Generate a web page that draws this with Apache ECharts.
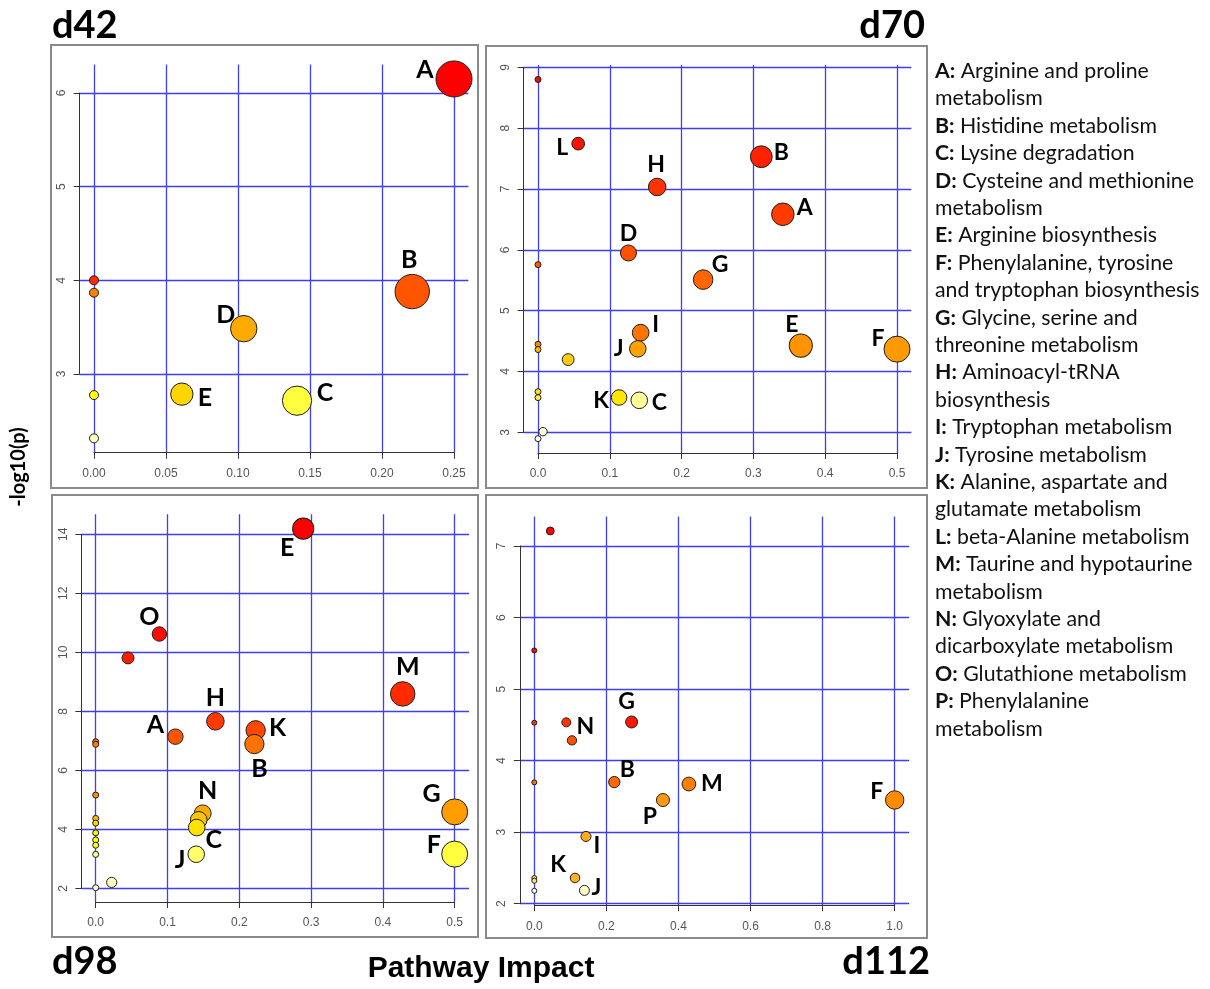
<!DOCTYPE html>
<html><head><meta charset="utf-8">
<script src="https://cdn.jsdelivr.net/npm/echarts@6/dist/echarts.min.js"></script>
<style>html,body{margin:0;padding:0;background:#fff}#c{width:1210px;height:989px}</style>
</head><body><div id="c"></div>
<script>
// ================= DATA =================
// d42
const d42Label  = ['A','','B','','D','E','','C',''];
const d42Impact = [0.250,0,0.221,0,0.104,0.061,0,0.141,0];
const d42LogP   = [6.15,4.00,3.88,3.868,3.484,2.785,2.775,2.715,2.313];
const d42XTicks = [0,0.05,0.10,0.15,0.20,0.25];
const d42YTicks = [3,4,5,6];
// d70
const d70Label  = ['','L','B','H','A','D','','G','I','','E','J','F','','','','K','','C','',''];
const d70Impact = [0,0.056,0.311,0.166,0.341,0.126,0,0.230,0.143,0,0.366,0.139,0.500,0,0.042,0,0.113,0,0.141,0.007,0];
const d70LogP   = [8.80,7.745,7.53,7.033,6.584,5.948,5.756,5.51,4.638,4.447,4.425,4.372,4.367,4.36,4.195,3.668,3.572,3.570,3.526,3.011,2.896];
const d70XTicks = [0,0.1,0.2,0.3,0.4,0.5];
const d70YTicks = [3,4,5,6,7,8,9];
// d98
const d98Label  = ['E','O','','M','H','K','A','','B','','','G','N','','','','C','','','','F','J','','',''];
const d98Impact = [0.289,0.0887,0.045,0.4276,0.1667,0.2228,0.111,0,0.221,0,0,0.500,0.149,0,0.1435,0,0.1407,0,0,0,0.500,0.140,0,0.0223,0];
const d98LogP   = [14.19,10.62,9.81,8.59,7.66,7.356,7.14,6.97,6.89,6.88,5.16,4.59,4.54,4.37,4.32,4.21,4.06,3.88,3.64,3.46,3.16,3.155,3.15,2.20,2.02];
const d98XTicks = [0,0.1,0.2,0.3,0.4,0.5];
const d98YTicks = [2,4,6,8,10,12,14];
// d112
const d112Label  = ['','','G','N','','','B','','M','F','P','I','K','','','J',''];
const d112Impact = [0.0444,0,0.270,0.0888,0,0.1045,0.222,0,0.429,1.000,0.357,0.1434,0.113,0,0,0.139,0];
const d112LogP   = [7.21,5.54,4.54,4.535,4.53,4.283,3.70,3.696,3.673,3.45,3.449,2.94,2.36,2.359,2.32,2.186,2.18];
const d112XTicks = [0,0.2,0.4,0.6,0.8,1.0];
const d112YTicks = [2,3,4,5,6,7];
// legend
const legendKeys  = ['A','B','C','D','E','F','G','H','I','J','K','L','M','N','O','P'];
const legendNames = [
  'Arginine and proline\nmetabolism',
  'Histidine metabolism',
  'Lysine degradation',
  'Cysteine and methionine\nmetabolism',
  'Arginine biosynthesis',
  'Phenylalanine, tyrosine\nand tryptophan biosynthesis',
  'Glycine, serine and\nthreonine metabolism',
  'Aminoacyl-tRNA\nbiosynthesis',
  'Tryptophan metabolism',
  'Tyrosine metabolism',
  'Alanine, aspartate and\nglutamate metabolism',
  'beta-Alanine metabolism',
  'Taurine and hypotaurine\nmetabolism',
  'Glyoxylate and\ndicarboxylate metabolism',
  'Glutathione metabolism',
  'Phenylalanine\nmetabolism'
];

// ================= LAYOUT / STYLE =================
const LAYOUT = {
  d42:  {xPx:[94,454],     yPx:[374,93],     rMin:4.5, rMax:18,  labelSize:25, decimals:2},
  d70:  {xPx:[538,897],    yPx:[432.3,67.3], rMin:3,   rMax:13,  labelSize:23, decimals:1},
  d98:  {xPx:[95.7,454.7], yPx:[888.3,534.3],rMin:3,   rMax:13,  labelSize:25, decimals:1},
  d112: {xPx:[534.3,894.7],yPx:[903.7,546],  rMin:2.5, rMax:9.2, labelSize:23, decimals:1}
};
const LABEL_OFFSETS = {
  d42: {A:[-29,-9],B:[-3,-32],D:[-18,-14],E:[23,4],C:[28,-8]},
  d70: {L:[-16,4],H:[-1,-22],B:[20,-4],A:[22,-7],D:[0,-19],G:[17,-15],I:[15,-8],J:[-19,0],E:[-9,-21],F:[-19,-11],K:[-18,3],C:[20,2]},
  d98: {E:[-16,19],O:[-10,-17],M:[5,-27],H:[0,-23],A:[-20,-12],K:[22,-2],B:[5,25],N:[5,-22],C:[17,12],J:[-16,6],G:[-23,-18],F:[-21,-9]},
  d112:{N:[19,4],G:[-5,-20],B:[13,-13],M:[23,0],P:[-13,17],F:[-18,-8],I:[11,9],K:[-17,-13],J:[12,-3]}
};
const COLOR_OVERRIDES = {
  d70: ['#e81000','#ff1100','#ff2200','#ff3300','#ff3b00','#ff5000','#ff5a00','#ff6600','#ff7400','#ff8800',
        '#ff9400','#ffa200','#ff9a00','#ffbb00','#ffcc11','#ffdd22','#ffe600','#ffee44','#ffff99','#ffffcc','#fffff0'],
  d112: ['#ff0000','#e81000','#ff1500','#ff3300','#e83a10','#ff5000','#ff6a00','#f07010','#ff7e00','#ff8c00',
         '#ff9a10','#ffaa20','#ffb020','#f5d040','#f8e880','#ffffc8','#ffffff']
};
const GRID_BLUE = '#3f3fec';

// R heat.colors
function hsv2hex(h,s,v){
  const i=Math.floor(h*6), f=h*6-i, p=v*(1-s), q=v*(1-f*s), t=v*(1-(1-f)*s);
  let r,g,b;
  switch(((i%6)+6)%6){case 0:r=v;g=t;b=p;break;case 1:r=q;g=v;b=p;break;case 2:r=p;g=v;b=t;break;
    case 3:r=p;g=q;b=v;break;case 4:r=t;g=p;b=v;break;default:r=v;g=p;b=q;}
  return '#'+[r,g,b].map(c=>Math.round(c*255).toString(16).padStart(2,'0')).join('');
}
function heatColors(n){
  const j=Math.floor(n/4), i=n-j, out=[];
  for(let k=0;k<i;k++) out.push(hsv2hex(i>1? (k/(i-1))/6 : 0,1,1));
  const s0=1-1/(2*j), s1=1/(2*j);
  for(let k=0;k<j;k++){ const s = j>1 ? s0+k*(s1-s0)/(j-1) : s0; out.push(hsv2hex(1/6,s,1)); }
  return out;
}

const grids=[], xAxes=[], yAxes=[], series=[];
function buildPanel(key, impact, logp, labels, xTicks, yTicks){
  const L = LAYOUT[key];
  const gi = grids.length;
  const x0=xTicks[0], x1=xTicks[xTicks.length-1], y0=yTicks[0], y1=yTicks[yTicks.length-1];
  const kx=(L.xPx[1]-L.xPx[0])/(x1-x0), ky=(L.yPx[0]-L.yPx[1])/(y1-y0);
  const xmin=Math.min(...impact), xmax=Math.max(...impact), ymin=Math.min(...logp), ymax=Math.max(...logp);
  const px=0.04*(xmax-xmin), py=0.04*(ymax-ymin);
  const oxMin=xmin-px, oxMax=xmax+px, oyMin=ymin-py, oyMax=ymax+py;
  const oL=L.xPx[0]-(x0-oxMin)*kx, oR=L.xPx[1]+(oxMax-x1)*kx;
  const oB=L.yPx[0]+(y0-oyMin)*ky, oT=L.yPx[1]-(oyMax-y1)*ky;
  grids.push({left:oL, top:oT, width:oR-oL, height:oB-oT, containLabel:false});
  grids.push({left:L.xPx[0], top:L.yPx[1], width:L.xPx[1]-L.xPx[0], height:L.yPx[0]-L.yPx[1], containLabel:false});
  const splitStyle = {show:true, lineStyle:{color:GRID_BLUE, width:1.3}};
  xAxes.push({type:'value', gridIndex:gi, min:oxMin, max:oxMax, axisLine:{show:false},
    axisTick:{show:false, customValues:xTicks}, axisLabel:{show:false, customValues:xTicks}, splitLine:splitStyle});
  yAxes.push({type:'value', gridIndex:gi, min:oyMin, max:oyMax, axisLine:{show:false},
    axisTick:{show:false, customValues:yTicks}, axisLabel:{show:false, customValues:yTicks}, splitLine:splitStyle});
  const axLine={show:true, onZero:false, lineStyle:{color:'#333', width:1}};
  const axTick={show:true, length:6, lineStyle:{color:'#333', width:1}};
  const lblStyle={fontFamily:'Liberation Sans, Arial, sans-serif', fontSize:12, color:'#555'};
  xAxes.push({type:'value', gridIndex:gi+1, min:x0, max:x1, interval:xTicks[1]-xTicks[0],
    offset:oB-L.yPx[0], axisLine:axLine, axisTick:axTick,
    axisLabel:Object.assign({margin:15, formatter:v=>Number(v).toFixed(L.decimals)}, lblStyle), splitLine:{show:false}});
  yAxes.push({type:'value', gridIndex:gi+1, min:y0, max:y1, interval:yTicks[1]-yTicks[0],
    offset:L.xPx[0]-oL, axisLine:axLine, axisTick:axTick,
    axisLabel:Object.assign({margin:12, rotate:90, formatter:v=>String(Math.round(v))}, lblStyle), splitLine:{show:false}});
  // colours by rank of -log10(p)
  let cols = COLOR_OVERRIDES[key];
  if(!cols){
    const hc = heatColors(logp.length);
    const order = logp.map((v,i)=>i).sort((a,b)=>(logp[b]-logp[a])||(a-b));
    cols = []; order.forEach((idx,r)=>{cols[idx]=hc[r];});
  }
  const offs = LABEL_OFFSETS[key];
  const data = impact.map((x,i)=>{
    const it = {value:[x, logp[i]], itemStyle:{color:cols[i]}};
    if(labels[i]) it.label = {show:true, formatter:labels[i], offset:offs[labels[i]]||[0,0]};
    return it;
  });
  const sqMax = Math.sqrt(xmax);
  series.push({type:'scatter', xAxisIndex:xAxes.length-2, yAxisIndex:yAxes.length-2, clip:false,
    symbol:'circle',
    symbolSize:v=>2*(L.rMin+(L.rMax-L.rMin)*Math.sqrt(v[0])/sqMax),
    itemStyle:{borderColor:'#1e1e1e', borderWidth:1, opacity:1},
    label:{show:false, position:'inside', fontFamily:'Lato, sans-serif', fontWeight:'bold', fontSize:L.labelSize, color:'#000'},
    emphasis:{disabled:true}, silent:true, data:data});
}
buildPanel('d42', d42Impact, d42LogP, d42Label, d42XTicks, d42YTicks);
buildPanel('d70', d70Impact, d70LogP, d70Label, d70XTicks, d70YTicks);
buildPanel('d98', d98Impact, d98LogP, d98Label, d98XTicks, d98YTicks);
buildPanel('d112', d112Impact, d112LogP, d112Label, d112XTicks, d112YTicks);

const frameStyle={fill:'none', stroke:'#8a8a8a', lineWidth:2};
const legendText = legendKeys.map((k,i)=>'{b|'+k+':} '+legendNames[i]).join('\n');
const graphic = [
  {type:'rect', shape:{x:51,y:45,width:427,height:443}, style:frameStyle, silent:true},
  {type:'rect', shape:{x:486,y:46,width:441,height:442}, style:frameStyle, silent:true},
  {type:'rect', shape:{x:52,y:495,width:426,height:442}, style:frameStyle, silent:true},
  {type:'rect', shape:{x:486,y:495,width:441,height:443}, style:frameStyle, silent:true},
  {type:'text', x:52, y:26, style:{text:'d42', font:'bold 38px Lato', fill:'#000', textAlign:'left', textVerticalAlign:'middle'}},
  {type:'text', x:925, y:26, style:{text:'d70', font:'bold 38px Lato', fill:'#000', textAlign:'right', textVerticalAlign:'middle'}},
  {type:'text', x:52, y:962, style:{text:'d98', font:'bold 38px Lato', fill:'#000', textAlign:'left', textVerticalAlign:'middle'}},
  {type:'text', x:930, y:962, style:{text:'d112', font:'bold 38px Lato', fill:'#000', textAlign:'right', textVerticalAlign:'middle'}},
  {type:'text', x:481, y:969, style:{text:'Pathway Impact', font:'bold 30px "Liberation Sans"', fill:'#000', textAlign:'center', textVerticalAlign:'middle'}},
  {type:'text', x:19, y:467, rotation:Math.PI/2, style:{text:'-log10(p)', font:'bold 20px Lato', fill:'#000', textAlign:'center', textVerticalAlign:'middle'}},
  {type:'text', x:935, y:57.5, style:{text:legendText, font:'21.3px Lato', fill:'#111', lineHeight:27.4, textAlign:'left', textVerticalAlign:'top',
     rich:{b:{fontFamily:'Lato', fontWeight:'bold', fontSize:21.3, lineHeight:27.4, fill:'#111'}}}}
];

const chart = echarts.init(document.getElementById('c'), null, {renderer:'canvas'});
chart.setOption({animation:false, backgroundColor:'#fff', grid:grids, xAxis:xAxes, yAxis:yAxes, series:series, graphic:graphic});
</script></body></html>
